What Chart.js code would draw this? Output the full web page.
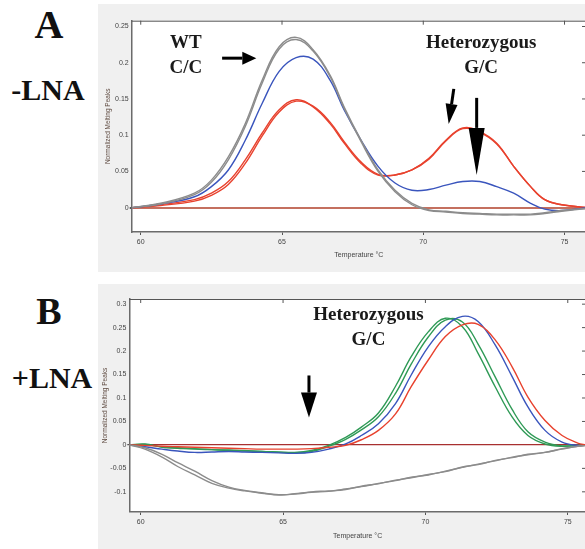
<!DOCTYPE html>
<html lang="en">
<head>
<meta charset="UTF-8" />
<title>Normalized melting peaks -LNA / +LNA</title>
<script src="https://cdn.jsdelivr.net/npm/chart.js"></script>
<style>
  html, body {
    margin: 0;
    padding: 0;
    background: #ffffff;
    overflow: hidden;
    width: 585px;
    height: 549px;
  }
  .panel {
    position: absolute;
    left: 98px;
    width: 490px;
    background: #f0f0f0;
  }
  #panelA { top: 4px; height: 268px; }
  #panelB { top: 284px; height: 265px; }
  .label {
    position: absolute;
    font-family: "Liberation Serif", "Times New Roman", serif;
    font-weight: bold;
    color: #111;
    transform: translate(-50%, -50%);
    white-space: nowrap;
  }
</style>
</head>
<body>

<div class="label" style="left:49px; top:24px; font-size:40px;">A</div>
<div class="label" style="left:48px; top:90px; font-size:30px;">-LNA</div>
<div class="label" style="left:49px; top:311px; font-size:38px;">B</div>
<div class="label" style="left:52px; top:378px; font-size:30px;">+LNA</div>

<div class="panel" id="panelA"><canvas id="chartA" width="490" height="268"></canvas></div>
<div class="panel" id="panelB"><canvas id="chartB" width="490" height="265"></canvas></div>

<script>
  // ---- panel A (-LNA) ----
  const tempA = [59.7, 60.7, 61.9, 62.5, 63.1, 63.7, 64.3, 64.9, 65.5, 66.1, 66.7, 67.2, 67.8,
                 68.4, 69.0, 69.6, 70.2, 70.8, 71.4, 72.0, 72.6, 73.2, 73.8, 74.3, 74.9, 75.8];
  const greyA1 = [0, 0.006, 0.020, 0.038, 0.070, 0.116, 0.176, 0.222, 0.235, 0.218, 0.183, 0.139, 0.093,
                  0.052, 0.024, 0.006, -0.003, -0.005, -0.007, -0.008, -0.009, -0.009, -0.009, -0.007, -0.004, -0.001];
  const greyA2 = [0, 0.005, 0.018, 0.035, 0.066, 0.112, 0.172, 0.219, 0.232, 0.216, 0.181, 0.137, 0.091,
                  0.050, 0.022, 0.004, -0.004, -0.006, -0.008, -0.009, -0.010, -0.010, -0.010, -0.008, -0.005, -0.001];
  const blueA = [0, 0.005, 0.015, 0.029, 0.052, 0.093, 0.144, 0.188, 0.207, 0.205, 0.176, 0.135, 0.093,
                 0.057, 0.034, 0.024, 0.025, 0.031, 0.036, 0.036, 0.029, 0.020, 0.006, -0.002, -0.004, 0];
  const redA1 = [0, 0.004, 0.011, 0.020, 0.036, 0.066, 0.103, 0.135, 0.149, 0.139, 0.116, 0.089, 0.061,
                 0.045, 0.045, 0.052, 0.068, 0.093, 0.110, 0.105, 0.089, 0.057, 0.029, 0.011, 0.004, 0];
  const redA2 = [0, 0.003, 0.009, 0.017, 0.032, 0.061, 0.099, 0.132, 0.147, 0.140, 0.118, 0.091, 0.063,
                 0.046, 0.045, 0.052, 0.067, 0.092, 0.109, 0.104, 0.088, 0.057, 0.029, 0.011, 0.004, 0];
  const yTicksA = [0, 0.05, 0.1, 0.15, 0.2, 0.25];

  // ---- panel B (+LNA) ----
  const tempB = [59.6, 60.15, 60.75, 61.3, 61.9, 62.5, 63.1, 63.65, 64.25, 64.85, 65.4, 66.0, 66.6, 67.2,
                 67.75, 68.35, 68.95, 69.5, 70.1, 70.7, 71.3, 71.85, 72.45, 73.05, 73.6, 74.2, 74.8, 75.35, 75.65];
  const greyB1 = [0, -0.009, -0.026, -0.046, -0.064, -0.082, -0.092, -0.098, -0.103, -0.106, -0.105, -0.101, -0.099, -0.094,
                  -0.089, -0.082, -0.076, -0.069, -0.064, -0.056, -0.048, -0.041, -0.034, -0.026, -0.021, -0.016, -0.009, -0.003, -0.001];
  const greyB2 = [0, -0.006, -0.020, -0.038, -0.056, -0.076, -0.090, -0.097, -0.102, -0.107, -0.104, -0.100, -0.098, -0.095,
                  -0.088, -0.083, -0.075, -0.070, -0.063, -0.057, -0.047, -0.042, -0.033, -0.027, -0.020, -0.016, -0.008, -0.003, -0.001];
  const redB = [0, -0.001, -0.003, -0.004, -0.005, -0.006, -0.007, -0.008, -0.009, -0.009, -0.009, -0.008, -0.005, -0.001,
                0.011, 0.031, 0.066, 0.124, 0.181, 0.231, 0.256, 0.257, 0.224, 0.166, 0.102, 0.052, 0.020, 0.004, 0];
  const blueB = [0, -0.004, -0.009, -0.013, -0.016, -0.015, -0.014, -0.015, -0.016, -0.017, -0.018, -0.016, -0.009, 0.002,
                 0.020, 0.045, 0.088, 0.149, 0.209, 0.252, 0.274, 0.263, 0.213, 0.145, 0.081, 0.031, 0.006, -0.001, 0];
  const greenB1 = [0, 0.002, -0.005, -0.007, -0.009, -0.010, -0.011, -0.012, -0.014, -0.015, -0.016, -0.012, -0.001, 0.016,
                   0.038, 0.068, 0.125, 0.188, 0.241, 0.270, 0.252, 0.195, 0.124, 0.059, 0.020, 0.002, -0.003, -0.001, 0];
  const greenB2 = [0, 0.001, -0.004, -0.006, -0.008, -0.010, -0.012, -0.013, -0.014, -0.016, -0.017, -0.014, -0.003, 0.012,
                   0.032, 0.060, 0.110, 0.172, 0.230, 0.266, 0.262, 0.215, 0.145, 0.075, 0.028, 0.006, -0.002, -0.001, 0];
  const yTicksB = [-0.1, -0.05, 0, 0.05, 0.1, 0.15, 0.2, 0.25, 0.3];

  const xTicks = [60, 65, 70, 75];

  // annotations, in data units
  const notesA = ["WT", "C/C", "Heterozygous", "G/C"];
  const notesAx = [61.6, 61.6, 72.05, 72.05];
  const notesAy = [0.2202, 0.1856, 0.2210, 0.1856];
  const arrowsA = [
    [62.88, 0.2063, 64.09, 0.2063],
    [71.08, 0.1639, 70.90, 0.1156],
    [71.89, 0.1515, 71.89, 0.0452]
  ];
  const notesB = ["Heterozygous", "G/C"];
  const notesBx = [68.0, 68.0];
  const notesBy = [0.2656, 0.2137];
  const arrowsB = [
    [65.91, 0.148, 65.91, 0.0583]
  ];

  const GREY = "#8c8c8c", BLUE = "#3a55bd", RED = "#e8422e", GREEN = "#2f9a56";

  function series(temps, values, color) {
    return {
      data: temps.map((t, i) => ({ x: t, y: values[i] })),
      borderColor: color,
      borderWidth: 1.4,
      pointRadius: 0,
      tension: 0.4,
      fill: false
    };
  }

  function drawArrow(ctx, x1, y1, x2, y2, headLen, headW) {
    const a = Math.atan2(y2 - y1, x2 - x1);
    const bx = x2 - headLen * Math.cos(a), by = y2 - headLen * Math.sin(a);
    ctx.strokeStyle = "#000";
    ctx.fillStyle = "#000";
    ctx.lineWidth = 3;
    ctx.beginPath();
    ctx.moveTo(x1, y1);
    ctx.lineTo(bx, by);
    ctx.stroke();
    const nx = -Math.sin(a) * headW / 2, ny = Math.cos(a) * headW / 2;
    ctx.beginPath();
    ctx.moveTo(x2, y2);
    ctx.lineTo(bx + nx, by + ny);
    ctx.lineTo(bx - nx, by - ny);
    ctx.closePath();
    ctx.fill();
  }

  // white plot area, top / right frame with inward ticks
  const framePlugin = {
    id: "frame",
    beforeDraw(chart) {
      const { ctx, chartArea: ca } = chart;
      ctx.save();
      ctx.fillStyle = "#ffffff";
      ctx.fillRect(ca.left, ca.top, ca.right - ca.left, ca.bottom - ca.top);
      ctx.restore();
    },
    beforeDatasetsDraw(chart) {
      const { ctx, chartArea: ca, scales } = chart;
      ctx.save();
      ctx.strokeStyle = "#555";
      ctx.lineWidth = 1;
      ctx.beginPath();
      ctx.moveTo(ca.left, ca.top + 0.5);
      ctx.lineTo(ca.right, ca.top + 0.5);
      ctx.moveTo(ca.right - 0.5, ca.top);
      ctx.lineTo(ca.right - 0.5, ca.bottom);
      scales.x.ticks.forEach(t => {
        const px = scales.x.getPixelForValue(t.value);
        ctx.moveTo(px, ca.top);
        ctx.lineTo(px, ca.top + 4);
      });
      scales.y.ticks.forEach(t => {
        const py = scales.y.getPixelForValue(t.value);
        ctx.moveTo(ca.right, py);
        ctx.lineTo(ca.right - 4, py);
      });
      ctx.stroke();
      ctx.restore();
    }
  };

  const notesPlugin = {
    id: "notes",
    afterDatasetsDraw(chart, args, opts) {
      const { ctx, scales } = chart;
      ctx.save();
      ctx.font = "bold 19px 'Liberation Serif', 'Times New Roman', serif";
      ctx.fillStyle = "#1a1a1a";
      ctx.textAlign = "center";
      ctx.textBaseline = "alphabetic";
      opts.texts.forEach((txt, i) => {
        ctx.fillText(txt, scales.x.getPixelForValue(opts.tx[i]), scales.y.getPixelForValue(opts.ty[i]));
      });
      opts.arrows.forEach((a, i) => {
        drawArrow(ctx,
          scales.x.getPixelForValue(a[0]), scales.y.getPixelForValue(a[1]),
          scales.x.getPixelForValue(a[2]), scales.y.getPixelForValue(a[3]),
          opts.heads[i][0], opts.heads[i][1]);
      });
      ctx.restore();
    }
  };

  function makeChart(id, datasets, cfg) {
    return new Chart(document.getElementById(id), {
      type: "line",
      data: { datasets },
      plugins: [framePlugin, notesPlugin],
      options: {
        responsive: false,
        animation: false,
        devicePixelRatio: 1,
        layout: { padding: { top: cfg.padTop, right: 2, left: 0, bottom: 0 } },
        plugins: {
          legend: { display: false },
          tooltip: { enabled: false },
          notes: cfg.notes
        },
        scales: {
          x: {
            type: "linear",
            min: cfg.xMin,
            max: cfg.xMax,
            afterBuildTicks: s => { s.ticks = xTicks.map(v => ({ value: v })); },
            afterFit: s => { s.height = cfg.xHeight; },
            border: { color: "#6b6b6b", width: 1.5 },
            grid: { drawOnChartArea: false, tickLength: 3, tickColor: "#555" },
            ticks: { color: "#444", font: { family: "'Liberation Sans', Arial", size: 7 }, padding: 3, maxRotation: 0 },
            title: {
              display: true,
              text: "Temperature °C",
              color: "#444",
              font: { family: "'Liberation Sans', Arial", size: 7 },
              padding: { top: 0, bottom: cfg.xTitlePad }
            }
          },
          y: {
            min: cfg.yMin,
            max: cfg.yMax,
            afterBuildTicks: s => { s.ticks = cfg.yTicks.map(v => ({ value: v })); },
            afterFit: s => { s.width = cfg.yWidth; },
            border: { color: "#6b6b6b", width: 1.5 },
            grid: {
              color: c => c.tick && c.tick.value === 0 ? cfg.zeroColor : "rgba(0,0,0,0)",
              lineWidth: c => c.tick && c.tick.value === 0 ? cfg.zeroWidth : 0,
              tickLength: 2,
              tickColor: "#555"
            },
            ticks: {
              color: "#444",
              font: { family: "'Liberation Sans', Arial", size: 7 },
              padding: 1,
              callback: v => String(v)
            },
            title: {
              display: true,
              text: "Normalized Melting Peaks",
              color: "#5e4a40",
              font: { family: "'Liberation Sans', Arial", size: 6.5 },
              padding: { top: cfg.yTitlePad, bottom: 0 }
            }
          }
        }
      }
    });
  }

  makeChart("chartA", [
    series(tempA, greyA1, GREY),
    series(tempA, greyA2, GREY),
    series(tempA, blueA, BLUE),
    series(tempA, redA1, RED),
    series(tempA, redA2, RED)
  ], {
    xMin: 59.68, xMax: 75.76, yMin: -0.0336, yMax: 0.258, yTicks: yTicksA,
    padTop: 16.7, yWidth: 33.7, xHeight: 40, xTitlePad: 12.8, yTitlePad: 6,
    zeroColor: "#c4705f", zeroWidth: 2,
    notes: {
      texts: notesA, tx: notesAx, ty: notesAy,
      arrows: arrowsA, heads: [[14, 13], [20, 12], [47, 16]]
    }
  });

  makeChart("chartB", [
    series(tempB, greyB1, GREY),
    series(tempB, greyB2, GREY),
    series(tempB, redB, RED),
    series(tempB, blueB, BLUE),
    series(tempB, greenB1, GREEN),
    series(tempB, greenB2, GREEN)
  ], {
    xMin: 59.6, xMax: 75.64, yMin: -0.143, yMax: 0.311, yTicks: yTicksB,
    padTop: 15, yWidth: 31.3, xHeight: 37, xTitlePad: 8.8, yTitlePad: 3,
    zeroColor: "#a83030", zeroWidth: 1.3,
    notes: {
      texts: notesB, tx: notesBx, ty: notesBy,
      arrows: arrowsB, heads: [[25, 16]]
    }
  });
</script>
</body>
</html>
